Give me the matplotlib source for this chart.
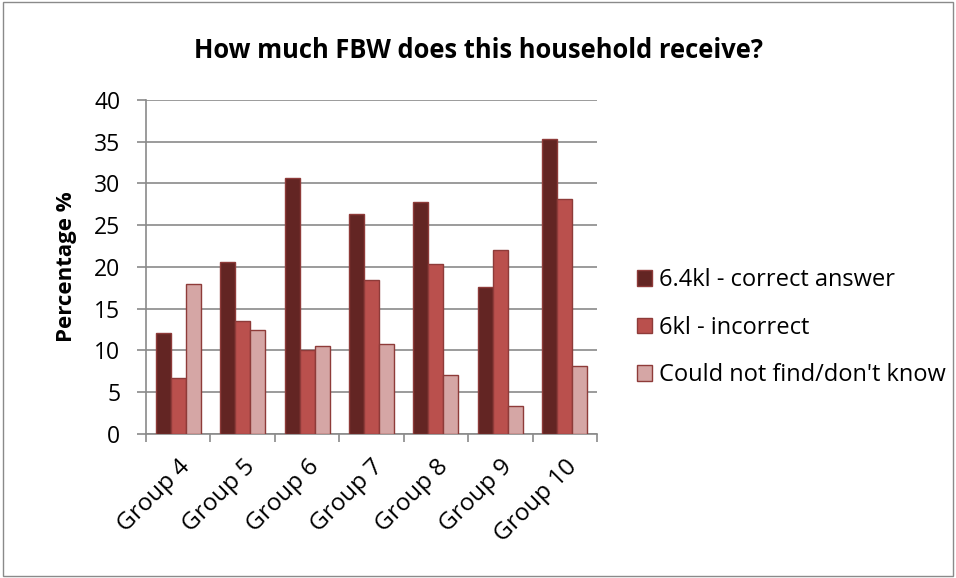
import numpy as np
import matplotlib.pyplot as plt
from matplotlib.patches import Rectangle

plt.rcParams['font.family'] = ['Open Sans', 'DejaVu Sans']

groups = ['Group 4', 'Group 5', 'Group 6', 'Group 7', 'Group 8', 'Group 9', 'Group 10']
correct = [12.1, 20.6, 30.7, 26.4, 27.8, 17.6, 35.3]
incorrect = [6.7, 13.5, 10.1, 18.5, 20.3, 22.0, 28.1]
dont_know = [18.0, 12.5, 10.5, 10.8, 7.1, 3.3, 8.1]
series_names = ['6.4kl - correct answer', '6kl - incorrect', "Could not find/don't know"]
yticks = [0, 5, 10, 15, 20, 25, 30, 35, 40]

fills = ['#632523', '#BA504D', '#D5A6A5']
edge = '#8E3B39'

fig = plt.figure(figsize=(9.56, 5.78), dpi=100)
ax = fig.add_axes([0.1527, 0.2491, 0.4718, 0.578])

x = np.arange(len(groups))
w = 0.233
for i, (vals, col, name) in enumerate(zip([correct, incorrect, dont_know], fills, series_names)):
    ax.bar(x + (i - 1) * w, vals, width=w, color=col, edgecolor=edge,
           linewidth=1.0, label=name, zorder=3)

ax.set_xlim(-0.5, len(groups) - 0.5)
ax.set_ylim(0, 40)
ax.set_yticks(yticks)
ax.set_yticklabels([str(t) for t in yticks], fontsize=16.5)
ax.yaxis.grid(True, color='#8A8A8A', linewidth=1.2, zorder=0)
ax.set_axisbelow(True)

# group boundary ticks on the category axis
ax.set_xticks(np.arange(len(groups) + 1) - 0.5)
ax.set_xticklabels([])
ax.set_xticks(x, minor=True)
ax.set_xticklabels(groups, minor=True, rotation=45, ha='right',
                   rotation_mode='anchor', fontsize=17.5)
ax.tick_params(axis='x', which='minor', length=0, pad=15)
ax.tick_params(axis='x', which='major', length=6, color='#8A8A8A', width=1.2)
ax.tick_params(axis='y', length=6.5, color='#8A8A8A', width=1.2, pad=12)

for s in ['top', 'right']:
    ax.spines[s].set_visible(False)
for s in ['left', 'bottom']:
    ax.spines[s].set_color('#8A8A8A')
    ax.spines[s].set_linewidth(1.2)

ax.set_ylabel('Percentage %', fontsize=16, fontweight='bold', labelpad=12)

fig.text(0.5, 0.913, 'How much FBW does this household receive?',
         ha='center', va='center', fontsize=18.4, fontweight='bold')

ax.legend(loc='center left', bbox_to_anchor=(1.089, 0.318), frameon=False,
          fontsize=17, handlelength=0.64, handleheight=0.64,
          handletextpad=0.27, labelspacing=1.0, borderaxespad=0, borderpad=0)

fig.patches.append(Rectangle((0.003, 0.003), 0.994, 0.994, transform=fig.transFigure,
                             fill=False, edgecolor='#8A8A8A', linewidth=1.0))

fig.savefig('out.png', dpi=100)
